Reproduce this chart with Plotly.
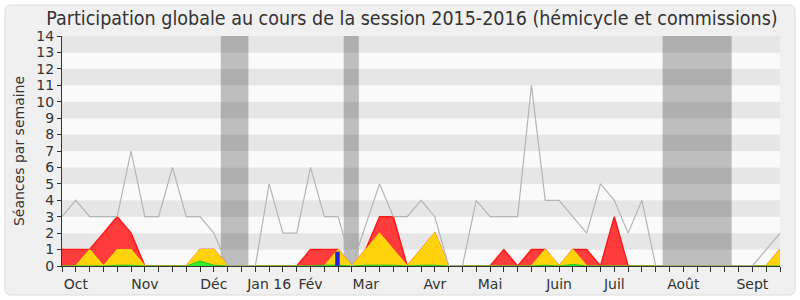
import plotly.graph_objects as go

weeks = list(range(53))
total = [3, 4, 3, 3, 3, 7, 3, 3, 6, 3, 3, 2, 0, 0, 0, 5, 2, 2, 6, 3,
         3, 0, 2.5, 5, 3, 3, 4, 3, 0, 0, 4, 3, 3, 3, 11, 4, 4, 3, 2, 5,
         4, 2, 4, 0, 0, 0, 0, 0, 0, 0, 0, 1, 2]
red = [1, 1, 1, 2, 3, 2, 0, 0, 0, 0, 1, 1, 0, 0, 0, 0, 0, 0, 1, 1,
       1, 0, 1, 3, 3, 0, 1, 2, 0, 0, 0, 0, 1, 0, 1, 1, 0, 1, 1, 0,
       3, 0, 0, 0, 0, 0, 0, 0, 0, 0, 0, 0, 1]
yellow = [0, 0, 1, 0, 1, 1, 0, 0, 0, 0, 1, 1, 0, 0, 0, 0, 0, 0, 0, 0,
          1, 0, 1, 2, 1, 0, 1, 2, 0, 0, 0, 0, 0, 0, 0, 1, 0, 1, 0, 0,
          0, 0, 0, 0, 0, 0, 0, 0, 0, 0, 0, 0, 1]
green = [0, 0, 0, 0, 0.05, 0.05, 0, 0, 0, 0, 0.3, 0.05, 0, 0, 0, 0, 0, 0, 0, 0.05,
         0.05, 0, 0.05, 0.05, 0.05, 0, 0.05, 0.05, 0, 0, 0, 0, 0, 0, 0, 0.05, 0, 0.1, 0, 0,
         0, 0, 0, 0, 0, 0, 0, 0, 0, 0, 0, 0, 0]
blue_x = [19.95]
blue_y = [0.87]
month_weeks = [1, 6, 11, 15, 18, 22, 27, 31, 36, 40, 45, 50]
month_labels = ["Oct", "Nov", "Déc", "Jan 16", "Fév", "Mar", "Avr", "Mai", "Juin", "Juil", "Août", "Sept"]
holidays = [(11.5, 13.5), (20.4, 21.5), (43.5, 48.5)]
y_max = 14

TFONT = "DejaVu Sans Condensed, DejaVu Sans, sans-serif"
FONT = "DejaVu Sans, sans-serif"

fig = go.Figure()
fig.add_trace(go.Scatter(x=weeks, y=red, mode="lines", fill="tozeroy",
                         line=dict(color="#ff1a1a", width=1.5), fillcolor="rgba(255,45,45,0.92)",
                         hoverinfo="skip"))
fig.add_trace(go.Scatter(x=weeks, y=yellow, mode="lines", fill="tozeroy",
                         line=dict(color="rgba(255,225,0,0.9)", width=1.2), fillcolor="#ffd20a",
                         hoverinfo="skip"))
fig.add_trace(go.Scatter(x=weeks, y=green, mode="lines", fill="tozeroy",
                         line=dict(color="#22cc22", width=1), fillcolor="#33ee33",
                         hoverinfo="skip"))
for bx, by in zip(blue_x, blue_y):
    fig.add_trace(go.Scatter(x=[bx, bx], y=[0, by], mode="lines",
                             line=dict(color="#2222dd", width=4.5), hoverinfo="skip"))
fig.add_trace(go.Scatter(x=weeks, y=total, mode="lines",
                         line=dict(color="#b4b4b4", width=1.2), hoverinfo="skip"))
fig.add_trace(go.Scatter(x=weeks, y=[y_max + 0.12] * len(weeks), mode="markers",
                         marker=dict(symbol="square", size=2, color="#222"),
                         cliponaxis=False, hoverinfo="skip"))

shapes = []
L, R, T, B = 62, 780, 36, 266
W, H = R - L, B - T
def px(x):
    return (x - L) / W
def py(y):
    return (B - y) / H
x0, x1, y0, y1, r = 5, 795, 5, 295, 6
path = (f"M {px(x0 + r)},{py(y0)} L {px(x1 - r)},{py(y0)} Q {px(x1)},{py(y0)} {px(x1)},{py(y0 + r)} "
        f"L {px(x1)},{py(y1 - r)} Q {px(x1)},{py(y1)} {px(x1 - r)},{py(y1)} "
        f"L {px(x0 + r)},{py(y1)} Q {px(x0)},{py(y1)} {px(x0)},{py(y1 - r)} "
        f"L {px(x0)},{py(y0 + r)} Q {px(x0)},{py(y0)} {px(x0 + r)},{py(y0)} Z")
shapes.append(dict(type="path", xref="paper", yref="paper", path=path,
                   fillcolor="#f0f0f0", line=dict(color="#dcdcdc", width=1), layer="below"))
for k in range(y_max):
    shapes.append(dict(type="rect", xref="x", yref="y", x0=0, x1=52, y0=k, y1=k + 1,
                       fillcolor="#e6e6e6" if k % 2 == 1 else "#fafafa", line=dict(width=0), layer="below"))
for a, b in holidays:
    shapes.append(dict(type="rect", xref="x", yref="y", x0=a, x1=b, y0=0, y1=y_max,
                       fillcolor="rgba(0,0,0,0.24)", line=dict(width=0), layer="below"))

ticktext = []
for w in weeks:
    ticktext.append(month_labels[month_weeks.index(w)] if w in month_weeks else "")

fig.update_layout(
    width=800, height=300,
    margin=dict(l=L, r=800 - R, t=T, b=300 - B, autoexpand=False),
    paper_bgcolor="white", plot_bgcolor="rgba(0,0,0,0)",
    showlegend=False,
    shapes=shapes,
    font=dict(family=FONT, color="#333"),
    title=dict(text="Participation globale au cours de la session 2015-2016 (hémicycle et commissions)",
               x=412 / 800, xanchor="center", xref="container", y=0.94, yanchor="middle",
               font=dict(size=19.5, family=TFONT, color="#333")),
    xaxis=dict(range=[0, 52], tickmode="array", tickvals=weeks, ticktext=ticktext,
               ticks="outside", ticklen=5, tickcolor="#333", tickwidth=1, automargin=False,
               showline=True, linecolor="#333", linewidth=1, showgrid=False, zeroline=False,
               tickfont=dict(size=14, color="#333")),
    yaxis=dict(range=[0, y_max], tickmode="linear", dtick=1, tick0=0, automargin=False,
               ticks="outside", ticklen=4, tickcolor="#333",
               showline=True, linecolor="#333", linewidth=1, showgrid=False, zeroline=False,
               tickfont=dict(size=14, color="#333"),
               title=dict(text="Séances par semaine", font=dict(size=14, color="#333"), standoff=8)),
)
fig.write_html("out.html")
